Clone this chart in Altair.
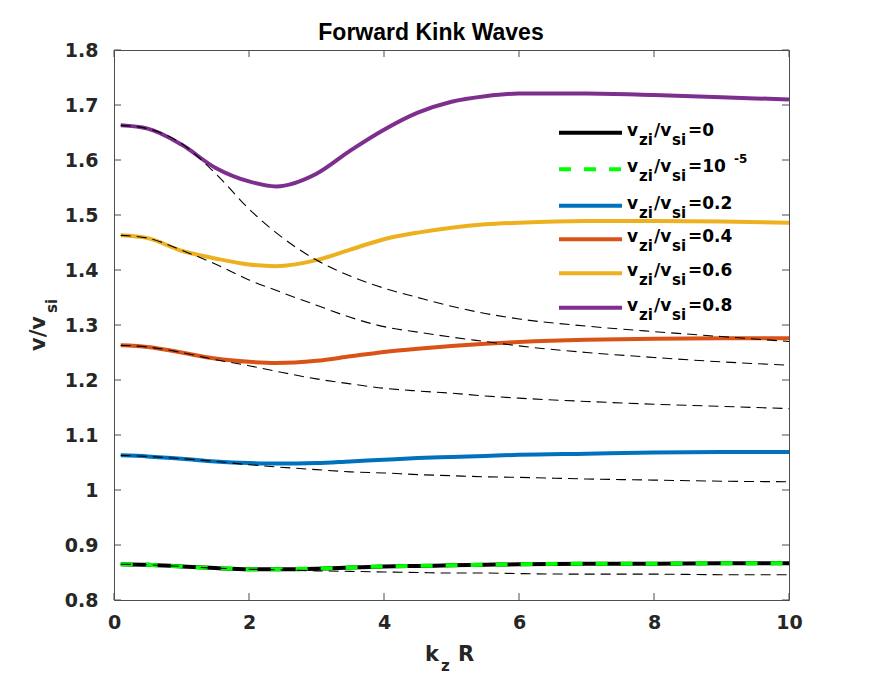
import altair as alt
import pandas as pd

# ---- data ----
k = [0.1, 0.5, 1.0, 1.5, 2.0, 2.4, 3.0, 3.5, 4.0, 4.5, 5.0, 5.5, 6.0, 7.0, 8.0, 9.0, 10.0]

v_00 = [0.865, 0.864, 0.861, 0.858, 0.856, 0.856, 0.857, 0.859, 0.861, 0.862, 0.863, 0.864, 0.865, 0.866, 0.866, 0.867, 0.867]
v_1e5 = [0.865, 0.864, 0.861, 0.858, 0.856, 0.856, 0.857, 0.859, 0.861, 0.862, 0.863, 0.864, 0.865, 0.866, 0.866, 0.867, 0.867]
v_02 = [1.063, 1.061, 1.057, 1.052, 1.049, 1.048, 1.049, 1.052, 1.055, 1.058, 1.060, 1.062, 1.064, 1.066, 1.068, 1.069, 1.069]
v_04 = [1.263, 1.260, 1.250, 1.239, 1.233, 1.231, 1.235, 1.243, 1.251, 1.257, 1.262, 1.266, 1.269, 1.273, 1.275, 1.276, 1.276]
v_06 = [1.463, 1.458, 1.435, 1.421, 1.410, 1.407, 1.418, 1.437, 1.456, 1.468, 1.477, 1.483, 1.486, 1.489, 1.489, 1.488, 1.486]
v_08 = [1.663, 1.657, 1.628, 1.586, 1.561, 1.552, 1.575, 1.617, 1.655, 1.686, 1.706, 1.716, 1.721, 1.721, 1.718, 1.714, 1.710]

d_00 = [0.865, 0.864, 0.861, 0.858, 0.856, 0.855, 0.853, 0.852, 0.851, 0.850, 0.849, 0.849, 0.848, 0.847, 0.847, 0.846, 0.846]
d_02 = [1.063, 1.061, 1.057, 1.052, 1.046, 1.042, 1.037, 1.033, 1.031, 1.028, 1.026, 1.024, 1.023, 1.020, 1.018, 1.016, 1.015]
d_04 = [1.263, 1.260, 1.250, 1.237, 1.226, 1.216, 1.202, 1.193, 1.185, 1.180, 1.176, 1.171, 1.167, 1.161, 1.156, 1.152, 1.148]
d_06 = [1.463, 1.458, 1.436, 1.411, 1.382, 1.363, 1.336, 1.314, 1.297, 1.287, 1.278, 1.270, 1.262, 1.250, 1.241, 1.233, 1.227]
d_08 = [1.663, 1.657, 1.630, 1.576, 1.511, 1.468, 1.418, 1.389, 1.367, 1.350, 1.334, 1.321, 1.311, 1.298, 1.288, 1.279, 1.270]

legend_values = ["=0", "=10", "=0.2", "=0.4", "=0.6", "=0.8"]
legend_sup = ["", "-5", "", "", "", ""]
colors = ["#000000", "#00FF00", "#0072BD", "#D95319", "#EDB120", "#7E2F8E"]

x_ticks = [0, 2, 4, 6, 8, 10]
y_ticks = [0.8, 0.9, 1.0, 1.1, 1.2, 1.3, 1.4, 1.5, 1.6, 1.7, 1.8]
title_text = "Forward Kink Waves"
xlabel_parts = ["k", "z", "R"]
ylabel_parts = ["v/v", "si"]
leg_parts = ["v", "zi", "/v", "si"]

# ---- layout ----
W, H = 675, 550
AX = "#4d4d4d"
FONT = "DejaVu Sans"
xs = alt.Scale(domain=[0, 10], nice=False, zero=False)
ys = alt.Scale(domain=[0.8, 1.8], nice=False, zero=False)
XA = alt.Axis(values=x_ticks, format="d", tickSize=0, domain=False, grid=False,
              labelFont=FONT, labelFontWeight="bold", labelFontSize=19,
              labelColor="#262626", labelPadding=13, labelFlush=False, title="")
YA = alt.Axis(values=y_ticks, format=".1~f", tickSize=0, domain=False, grid=False,
              labelFont=FONT, labelFontWeight="bold", labelFontSize=19,
              labelColor="#262626", labelPadding=16, labelFlush=False, title="")


def line_layer(vals, color, width, dash=None):
    df = pd.DataFrame({"k": k, "v": vals})
    mk = dict(color=color, strokeWidth=width, interpolate="monotone", clip=True)
    if dash:
        mk["strokeDash"] = dash
    return alt.Chart(df).mark_line(**mk).encode(
        x=alt.X("k:Q", scale=xs, axis=XA),
        y=alt.Y("v:Q", scale=ys, axis=YA),
    )


def txt(s, x, y, size, font=FONT, align="left", angle=0, color="#000000"):
    kw = dict(align=align, baseline="alphabetic", font=font, fontSize=size,
              fontWeight="bold", color=color)
    if angle:
        kw["angle"] = angle
    return alt.Chart(pd.DataFrame({"t": [s]})).mark_text(**kw).encode(
        x=alt.value(x), y=alt.value(y), text="t:N")


layers = []
# colored curves
layers.append(line_layer(v_00, colors[0], 4))
layers.append(line_layer(v_02, colors[2], 4))
layers.append(line_layer(v_04, colors[3], 4))
layers.append(line_layer(v_06, colors[4], 4))
layers.append(line_layer(v_08, colors[5], 4))
layers.append(line_layer(v_1e5, colors[1], 4, dash=[12, 13]))
# thin dashed curves
for d in [d_00, d_02, d_04, d_06, d_08]:
    layers.append(line_layer(d, "#000000", 1.1, dash=[10, 6]))

# inward ticks on all four sides
xt = pd.DataFrame({"k": x_ticks})
yt = pd.DataFrame({"v": y_ticks})
for y0, y1 in [(H, H - 7), (0, 7)]:
    layers.append(alt.Chart(xt).mark_rule(color=AX, strokeWidth=1).encode(
        x=alt.X("k:Q", scale=xs, axis=XA), y=alt.value(y0), y2=alt.value(y1)))
for x0, x1 in [(0, 7), (W, W - 7)]:
    layers.append(alt.Chart(yt).mark_rule(color=AX, strokeWidth=1).encode(
        y=alt.Y("v:Q", scale=ys, axis=YA), x=alt.value(x0), x2=alt.value(x1)))

# title and axis titles
layers.append(txt(title_text, 317, -10, 23, font="Liberation Sans", align="center"))
layers.append(txt(xlabel_parts[0], 311, 611, 21, color="#262626"))
layers.append(txt(xlabel_parts[1], 327, 621, 15, color="#262626"))
layers.append(txt(xlabel_parts[2], 344, 611, 21, color="#262626"))
layers.append(txt(ylabel_parts[0], -69, 301, 21, angle=270, color="#262626"))
layers.append(txt(ylabel_parts[1], -57, 263, 15, angle=270, color="#262626"))

# legend
row_cy = [82.7, 119.3, 155.7, 189.3, 223.3, 257.7]
for i, cy in enumerate(row_cy):
    mk = dict(color=colors[i], strokeWidth=4)
    if i == 1:
        mk["strokeDash"] = [12, 13]
    layers.append(alt.Chart(pd.DataFrame({"a": [0]})).mark_rule(**mk).encode(
        x=alt.value(445), x2=alt.value(508), y=alt.value(cy)))
    layers.append(txt(leg_parts[0], 513, cy + 3, 17))
    layers.append(txt(leg_parts[1], 525, cy + 12, 15))
    layers.append(txt(leg_parts[2], 540, cy + 3, 17))
    layers.append(txt(leg_parts[3], 558, cy + 12, 15))
    layers.append(txt(legend_values[i], 574, cy + 3, 17))
    if legend_sup[i]:
        layers.append(txt(legend_sup[i], 620, cy - 6, 12))

chart = alt.layer(*layers).properties(
    width=W, height=H,
    autosize=alt.AutoSizeParams(type="none"),
    padding={"left": 106, "top": 42, "right": 60, "bottom": 74},
).configure_view(stroke=AX, strokeWidth=1)

chart.save("out.html", embed_options={"renderer": "svg", "actions": False})
